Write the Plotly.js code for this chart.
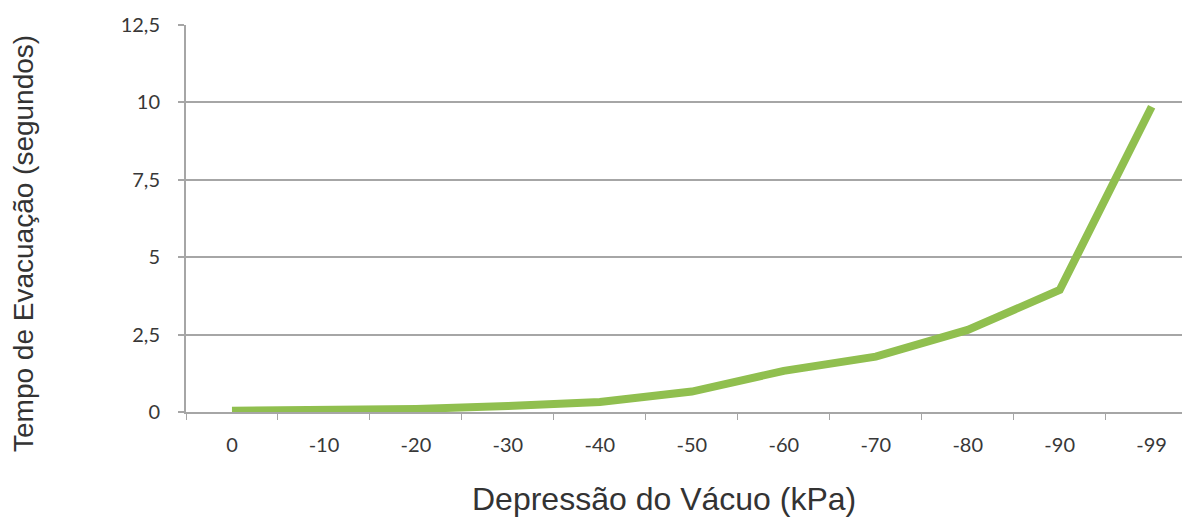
<!DOCTYPE html>
<html>
<head>
<meta charset="utf-8">
<script src="https://cdn.plot.ly/plotly-3.0.1.min.js"></script>
<style>html,body{margin:0;padding:0;background:#fff;overflow:hidden}#chart{width:1182px;height:518px}</style>
</head>
<body>
<div id="chart"></div>
<script>
const categories = ["0", "-10", "-20", "-30", "-40", "-50", "-60", "-70", "-80", "-90", "-99"];
const evacuationTime = [0.04, 0.06, 0.1, 0.19, 0.32, 0.66, 1.33, 1.79, 2.65, 3.94, 9.86];
const yTickValues = [0, 2.5, 5, 7.5, 10, 12.5];
const yTickLabels = ["0", "2,5", "5", "7,5", "10", "12,5"];
const xTitle = "Depressão do Vácuo (kPa)";
const yTitle = "Tempo de Evacuação (segundos)";

const tickFont = {family: "Lato, 'Open Sans', sans-serif", size: 20, color: "#383838"};

Plotly.newPlot("chart", [{
  x: categories,
  y: evacuationTime,
  type: "scatter",
  mode: "lines",
  line: {color: "#90bf4f", width: 8},
  hoverinfo: "x+y"
}], {
  width: 1182,
  height: 518,
  margin: {l: 186, r: 0, t: 25, b: 106},
  paper_bgcolor: "#ffffff",
  plot_bgcolor: "#ffffff",
  showlegend: false,
  xaxis: {
    type: "category",
    range: [-0.5, 10.33],
    showgrid: false,
    zeroline: false,
    showline: true,
    linecolor: "#a6a6a6",
    linewidth: 2,
    ticks: "outside",
    tickson: "boundaries",
    ticklen: 6,
    tickcolor: "#a6a6a6",
    tickwidth: 1,
    tickfont: tickFont,
    ticklabelstandoff: 14,
    fixedrange: true
  },
  yaxis: {
    range: [0, 12.5],
    tickvals: yTickValues,
    ticktext: yTickLabels,
    showgrid: true,
    gridcolor: "#a6a6a6",
    gridwidth: 2,
    zeroline: false,
    showline: true,
    linecolor: "#a6a6a6",
    linewidth: 2,
    ticks: "outside",
    ticklen: 6,
    tickcolor: "#a6a6a6",
    tickwidth: 2,
    tickfont: tickFont,
    ticklabelstandoff: 14,
    fixedrange: true
  },
  annotations: [
    {text: xTitle, xref: "paper", yref: "paper", x: (664 - 186) / 996, y: (412 - 499) / 387,
     xanchor: "center", yanchor: "middle", showarrow: false,
     font: {family: "'Liberation Sans', Arial, sans-serif", size: 32, color: "#333333"}},
    {text: yTitle, xref: "paper", yref: "paper", x: (23 - 186) / 996, y: (412 - 244) / 387,
     xanchor: "center", yanchor: "middle", showarrow: false, textangle: -90,
     font: {family: "'Liberation Sans', Arial, sans-serif", size: 28, color: "#333333"}}
  ]
}, {displayModeBar: false, staticPlot: true});
</script>
</body>
</html>
